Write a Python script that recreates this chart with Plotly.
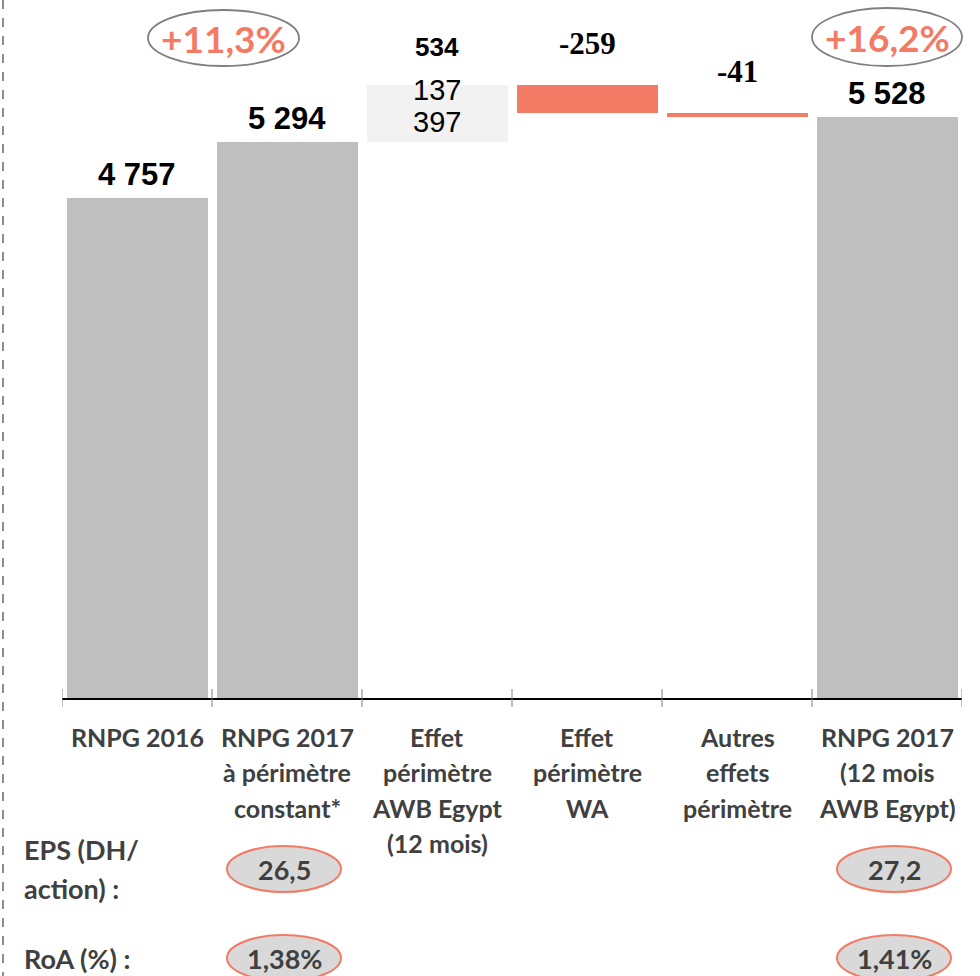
import plotly.graph_objects as go

# ---------------- data ----------------
categories = [
    ["RNPG 2016"],
    ["RNPG 2017", "à périmètre", "constant*"],
    ["Effet", "périmètre", "AWB Egypt", "(12 mois)"],
    ["Effet", "périmètre", "WA"],
    ["Autres", "effets", "périmètre"],
    ["RNPG 2017", "(12 mois", "AWB Egypt)"],
]
values = [4757, 5294, 534, -259, -41, 5528]
kinds = ["total", "total", "delta", "delta", "delta", "total"]
value_labels = ["4 757", "5 294", "534", "-259", "-41", "5 528"]
egypt_split = [137, 397]
growth_labels = ["+11,3%", "+16,2%"]
eps_values = ["26,5", "27,2"]
roa_values = ["1,38%", "1,41%"]
row_labels = [["EPS (DH/", "action) :"], ["RoA (%) :"]]

GREY = "#bfbfbf"
LIGHT = "#f2f2f2"
SALMON = "#f37b66"
DARK = "#404040"

# ---------------- layout geometry helpers ----------------
W, H = 980, 976
ML, MR, MT, MB = 62, 18, 0, 278
PW, PH = W - ML - MR, H - MT - MB


def px(x):
    return (x - ML) / PW


def py(y):
    return (H - MB - y) / PH


# ---------------- bars ----------------
bases, heights, colors = [], [], []
running = 0
for v, k in zip(values, kinds):
    if k == "total":
        bases.append(0)
        heights.append(v)
        running = v
        colors.append(GREY)
    else:
        bases.append(running)
        heights.append(v)
        running += v
        colors.append(LIGHT if v > 0 else SALMON)

idx = list(range(len(categories)))
fig = go.Figure()
fig.add_trace(go.Bar(
    x=idx, y=heights, base=bases, width=0.94,
    marker=dict(color=colors, line=dict(width=0)),
    hoverinfo="skip",
))

ymax = 4757 * PH / 500.0

annotations = []


def ann(**kw):
    kw.setdefault("showarrow", False)
    kw.setdefault("xanchor", "center")
    kw.setdefault("yanchor", "middle")
    annotations.append(kw)


for i, (v, k, lab, b) in enumerate(zip(values, kinds, value_labels, bases)):
    top = max(b, b + v)
    if k == "total":
        ann(x=i, y=top, xref="x", yref="y", text=f"<b>{lab}</b>",
            yanchor="bottom", yshift=4,
            font=dict(family="Liberation Sans", size=31, color="black"))
    elif v > 0:
        ann(x=i, y=top, xref="x", yref="y", text=f"<b>{lab}</b>",
            yanchor="bottom", yshift=21,
            font=dict(family="Liberation Sans", size=26, color="black"))
        n = len(egypt_split)
        for j, s in enumerate(egypt_split):
            ann(x=i, y=b + v / 2, xref="x", yref="y", text=str(s),
                yshift=7 - 32 * (j - (n - 1) / 2),
                font=dict(family="Liberation Sans", size=29, color="black"))
    else:
        ann(x=i, y=top, xref="x", yref="y", text=f"<b>{lab}</b>",
            yanchor="bottom", yshift=22,
            font=dict(family="Liberation Serif", size=31, color="black"))

# category labels (one annotation per line for Excel-like line spacing)
for i, lines in enumerate(categories):
    for j, line in enumerate(lines):
        ann(x=i, y=py(737 + 35.3 * j), xref="x", yref="paper",
            text=f"<b>{line}</b>",
            font=dict(family="Lato", size=25, color=DARK))

# growth ellipses at top
growth_pos = [(148, 10, 299, 66), (812, 8, 962, 66)]
shapes = []
for (x0, y0, x1, y1), g in zip(growth_pos, growth_labels):
    shapes.append(dict(type="circle", xref="paper", yref="paper",
                       x0=px(x0), x1=px(x1), y0=py(y1), y1=py(y0),
                       line=dict(color="#7f7f7f", width=1.8)))
    ann(x=px((x0 + x1) / 2), y=py((y0 + y1) / 2), xref="paper", yref="paper",
        text=f"<b>{g}</b>",
        font=dict(family="Lato", size=37, color=SALMON))

# EPS / RoA rows
row_centers = [869, 958]
for lines, yc in zip(row_labels, row_centers):
    n = len(lines)
    for j, line in enumerate(lines):
        ann(x=px(22), y=py(yc + 39 * (j - (n - 1) / 2)), xref="paper",
            yref="paper", xanchor="left", text=f"<b>{line}</b>",
            font=dict(family="Lato", size=27, color=DARK))
ell_x = [(227, 341), (837, 951)]
for row_vals, yc in zip([eps_values, roa_values], row_centers):
    y0, y1 = yc - 23, yc + 23
    for (x0, x1), val in zip(ell_x, row_vals):
        shapes.append(dict(type="circle", xref="paper", yref="paper",
                           x0=px(x0), x1=px(x1), y0=py(y1), y1=py(y0),
                           fillcolor="#d9d9d9", layer="below",
                           line=dict(color=SALMON, width=2)))
        ann(x=px((x0 + x1) / 2), y=py(yc), xref="paper", yref="paper",
            text=f"<b>{val}</b>",
            font=dict(family="Lato", size=27, color=DARK))

# tick marks crossing the axis at category boundaries
for i in range(len(categories) + 1):
    shapes.append(dict(type="line", xref="x", yref="paper",
                       x0=i - 0.5, x1=i - 0.5, y0=py(707), y1=py(689),
                       line=dict(color="#7f7f7f", width=1)))

# dashed left frame line
shapes.append(dict(type="line", xref="paper", yref="paper",
                   x0=px(3), x1=px(3), y0=py(H + 5), y1=py(-5),
                   line=dict(color="#8c8c8c", width=2, dash="dash")))

fig.update_layout(
    width=W, height=H,
    margin=dict(l=ML, r=MR, t=MT, b=MB, pad=0),
    plot_bgcolor="white", paper_bgcolor="white",
    showlegend=False,
    bargap=0,
    xaxis=dict(
        range=[-0.5, len(categories) - 0.5],
        showticklabels=False, ticks="",
        showline=True, linecolor="black", linewidth=1.5,
        showgrid=False, zeroline=False, fixedrange=True,
    ),
    yaxis=dict(range=[0, ymax], visible=False, fixedrange=True),
    shapes=shapes,
    annotations=annotations,
)

fig.write_html("out.html", config={"displayModeBar": False},
               post_script="document.body.style.margin='0';document.body.style.overflow='hidden';")
